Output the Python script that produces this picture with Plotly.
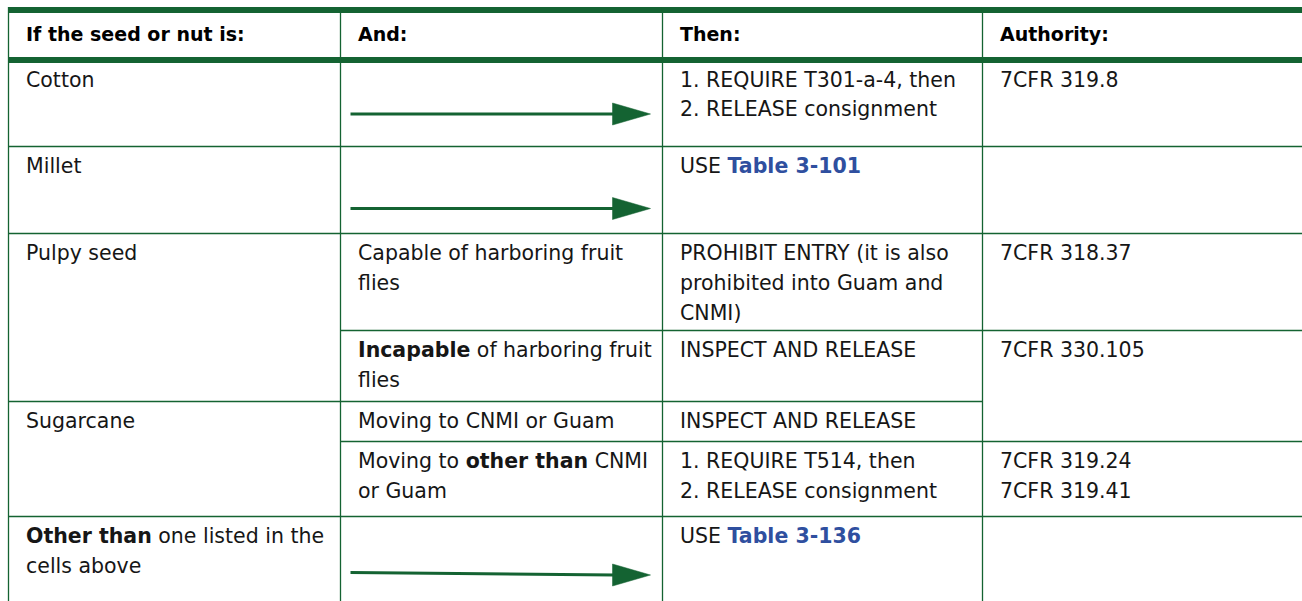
import plotly.graph_objects as go

# ---------------- data ----------------
headers = ["If the seed or nut is:", "And:", "Then:", "Authority:"]

BLUE = "#2f4f9f"
seeds = [
    "Cotton",
    "Millet",
    "Pulpy seed",
    "Sugarcane",
    "<b>Other than</b> one listed in the<br>cells above",
]
seed_rows = [0, 1, 2, 4, 6]

conditions = [
    "",
    "",
    "Capable of harboring fruit<br>flies",
    "<b>Incapable</b> of harboring fruit<br>flies",
    "Moving to CNMI or Guam",
    "Moving to <b>other than</b> CNMI<br>or Guam",
    "",
]
condition_rows = [0, 1, 2, 3, 4, 5, 6]

actions = [
    "1. REQUIRE T301-a-4, then<br>2. RELEASE consignment",
    f"USE <span style='color:{BLUE}'><b>Table 3-101</b></span>",
    "PROHIBIT ENTRY (it is also<br>prohibited into Guam and<br>CNMI)",
    "INSPECT AND RELEASE",
    "INSPECT AND RELEASE",
    "1. REQUIRE T514, then<br>2. RELEASE consignment",
    f"USE <span style='color:{BLUE}'><b>Table 3-136</b></span>",
]
action_rows = [0, 1, 2, 3, 4, 5, 6]

authorities = [
    "7CFR 319.8",
    "",
    "7CFR 318.37",
    "7CFR 330.105",
    "7CFR 319.24<br>7CFR 319.41",
    "",
]
authority_rows = [0, 1, 2, 3, 5, 6]

# ---------------- layout constants ----------------
W, H = 1302, 601
GREEN = "#146332"
TXT = "#161616"
FONT = "DejaVu Sans"
FS = 20.5
COL_LEFT = [8.5, 340.5, 662.5, 982.5]
COL_RIGHT = 1302
TOP_BAR = 10
HEAD_LINE = 60
ROW_TOPS = [60, 146.5, 233.5, 330.5, 401.5, 441.5, 516.5]
BOTTOM = 601
FIRST_LINE_OFF = 19.5
LINE_GAP = 29.8
PAD = 15
THIN = 1.3
ARROW_OFF = {0: (54, 54), 1: (62, 62), 6: (56, 58.5)}  # band -> (start y offset, end y offset)

columns = [
    (seeds, seed_rows),
    (conditions, condition_rows),
    (actions, action_rows),
    (authorities, authority_rows),
]

fig = go.Figure()
shapes = []
annotations = []

# thick header bars
for yv in (TOP_BAR, HEAD_LINE):
    shapes.append(dict(type="line", xref="x", yref="y", x0=COL_LEFT[0] - 0.5, x1=COL_RIGHT,
                       y0=yv, y1=yv, line=dict(color=GREEN, width=6)))

# vertical rules
for xv in COL_LEFT:
    shapes.append(dict(type="line", xref="x", yref="y", x0=xv, x1=xv,
                       y0=TOP_BAR - 3, y1=BOTTOM, line=dict(color=GREEN, width=THIN)))

# horizontal rules, derived from where cells start in each column
for ci, (vals, rows) in enumerate(columns):
    x0 = COL_LEFT[ci]
    x1 = COL_LEFT[ci + 1] if ci + 1 < len(COL_LEFT) else COL_RIGHT
    for r in rows:
        if r == 0:
            continue
        yv = ROW_TOPS[r]
        shapes.append(dict(type="line", xref="x", yref="y", x0=x0, x1=x1,
                           y0=yv, y1=yv, line=dict(color=GREEN, width=THIN)))

# header text
for ci, h in enumerate(headers):
    annotations.append(dict(x=COL_LEFT[ci] + PAD, y=33.5, xref="x", yref="y",
                            text=f"<b>{h}</b>", showarrow=False, xanchor="left",
                            yanchor="middle", font=dict(family=FONT, size=19, color="#000")))

# body text (one annotation per line)
for ci, (vals, rows) in enumerate(columns):
    for txt, r in zip(vals, rows):
        if not txt:
            continue
        for li, line in enumerate(txt.split("<br>")):
            annotations.append(dict(x=COL_LEFT[ci] + PAD,
                                    y=ROW_TOPS[r] + FIRST_LINE_OFF + li * LINE_GAP,
                                    xref="x", yref="y", text=line, showarrow=False,
                                    xanchor="left", yanchor="middle",
                                    font=dict(family=FONT, size=FS, color=TXT)))

# arrows in empty "And:" cells
for txt, r in zip(conditions, condition_rows):
    if txt:
        continue
    y0off, y1off = ARROW_OFF[r]
    ys, ye = ROW_TOPS[r] + y0off, ROW_TOPS[r] + y1off
    xs = COL_LEFT[1] + 10
    tip = COL_LEFT[2] - 12
    base = tip - 38
    fig.add_trace(go.Scatter(x=[xs, base + 2], y=[ys, ye], mode="lines",
                             line=dict(color=GREEN, width=3.2),
                             hoverinfo="skip", showlegend=False))
    fig.add_trace(go.Scatter(x=[base, tip, base, base], y=[ye - 11, ye, ye + 11, ye - 11],
                             mode="lines", fill="toself", fillcolor=GREEN,
                             line=dict(color=GREEN, width=0.5),
                             hoverinfo="skip", showlegend=False))

fig.update_layout(
    width=W, height=H,
    margin=dict(l=0, r=0, t=0, b=0),
    paper_bgcolor="white", plot_bgcolor="white",
    xaxis=dict(range=[0, W], visible=False, fixedrange=True),
    yaxis=dict(range=[H, 0], visible=False, fixedrange=True),
    shapes=shapes, annotations=annotations,
    showlegend=False,
)

fig.write_html(
    "out.html",
    config={"displayModeBar": False},
    post_script="document.body.style.margin='0';document.body.style.overflow='hidden';",
)
